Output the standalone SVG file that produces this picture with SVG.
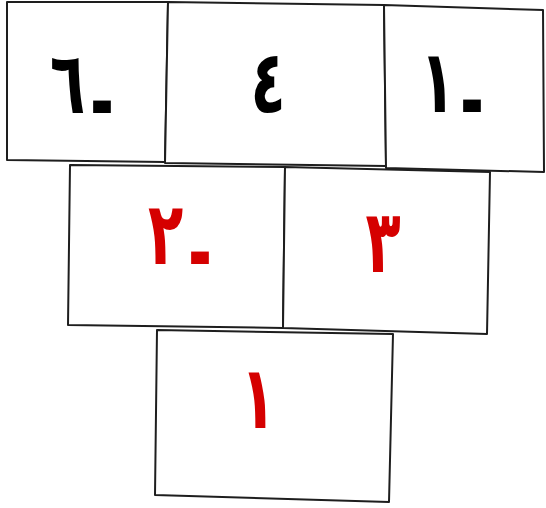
<svg xmlns="http://www.w3.org/2000/svg" width="546" height="508" viewBox="0 0 546 508">
<style>
.box{fill:#fff;stroke:#1e1e1e;stroke-width:2;stroke-linejoin:round}
.t{font-family:"DejaVu Sans",sans-serif;font-weight:bold;font-size:74px;text-anchor:middle;direction:ltr}
.k{fill:#000}
.r{fill:#d50000}
</style>
<rect width="546" height="508" fill="#fff"/>
<g id="top-left"><polygon class="box" points="7,2 168,2 165,162 7,160"/><text class="t k" transform="translate(82,113) scale(0.78,1.18)">٦<tspan dx="6" dy="16">-</tspan></text></g>
<g id="top-mid"><polygon class="box" points="168,2 384,5 386,166 165,163"/><text class="t k" transform="translate(268,113) scale(0.78,1.18)">٤</text></g>
<g id="top-right"><polygon class="box" points="384,5 543,10 544,172 386,168"/><text class="t k" transform="translate(452,112) scale(0.78,1.18)">١<tspan dx="6" dy="16">-</tspan></text></g>
<g id="mid-left"><polygon class="box" points="70,165 285,167 283,328 68,325"/><text class="t r" transform="translate(180,264) scale(0.78,1.18)">٢<tspan dx="6" dy="16">-</tspan></text></g>
<g id="mid-right"><polygon class="box" points="285,167 490,172 487,334 283,328"/><text class="t r" transform="translate(383,272) scale(0.78,1.18)">٣</text></g>
<g id="bottom"><polygon class="box" points="157,330 393,334 389,502 155,495"/><text class="t r" transform="translate(258,428) scale(0.78,1.18)">١</text></g>
<g id="connectors"></g>
</svg>
